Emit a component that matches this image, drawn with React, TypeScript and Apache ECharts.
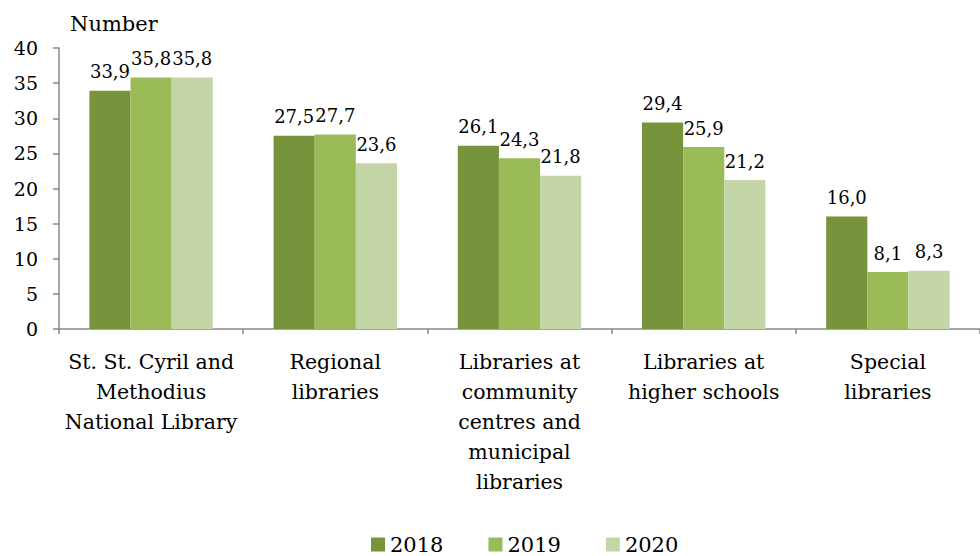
import React, { useEffect, useRef } from "react";
import * as echarts from "echarts";

const categories = [
  "St. St. Cyril and\nMethodius\nNational Library",
  "Regional\nlibraries",
  "Libraries at\ncommunity\ncentres and\nmunicipal\nlibraries",
  "Libraries at\nhigher schools",
  "Special\nlibraries",
];
const seriesNames = ["2018", "2019", "2020"];
const values2018 = [33.9, 27.5, 26.1, 29.4, 16.0];
const values2019 = [35.8, 27.7, 24.3, 25.9, 8.1];
const values2020 = [35.8, 23.6, 21.8, 21.2, 8.3];
const colors = ["#77933c", "#9bbb59", "#c4d6a7"];

const FONT = "DejaVu Serif";

export default function App() {
  const ref = useRef<HTMLDivElement>(null);
  useEffect(() => {
    if (!ref.current) return;
    const chart = echarts.init(ref.current, undefined, { renderer: "svg" });
    const data = [values2018, values2019, values2020];
    chart.setOption({
      animation: false,
      textStyle: { fontFamily: FONT },
      title: {
        text: "Number",
        left: 65,
        top: 8,
        textStyle: { fontFamily: FONT, fontSize: 21, fontWeight: "normal", color: "#000" },
      },
      legend: {
        data: seriesNames,
        left: 366,
        top: 529,
        itemWidth: 14,
        itemHeight: 14,
        itemGap: 45,
        icon: "rect",
        textStyle: { fontFamily: FONT, fontSize: 21, color: "#000" },
      },
      grid: { left: 59, top: 48, bottom: 227, right: -12, containLabel: false },
      xAxis: {
        type: "category",
        data: categories,
        axisLine: { show: true, lineStyle: { color: "#898989", width: 1.5 } },
        axisTick: { show: true, length: 5, lineStyle: { color: "#898989", width: 1.5 } },
        axisLabel: {
          interval: 0,
          margin: 18,
          fontFamily: FONT,
          fontSize: 20.5,
          lineHeight: 30,
          color: "#000",
          align: "center",
        },
      },
      yAxis: {
        type: "value",
        min: 0,
        max: 40,
        interval: 5,
        splitLine: { show: false },
        axisLine: { show: true, lineStyle: { color: "#898989", width: 1.5 } },
        axisTick: { show: true, length: 6, lineStyle: { color: "#898989", width: 1.5 } },
        axisLabel: { margin: 21, fontFamily: FONT, fontSize: 19, color: "#000" },
      },
      series: seriesNames.map((name, i) => ({
        name,
        type: "bar",
        data: data[i],
        barGap: "0%",
        barCategoryGap: "33%",
        itemStyle: { color: colors[i] },
        label: {
          show: true,
          position: "top",
          distance: 10,
          fontFamily: FONT,
          fontSize: 18,
          color: "#000",
          formatter: (p: any) => p.value.toFixed(1).replace(".", ","),
        },
      })),
    });
    return () => chart.dispose();
  }, []);
  return (
    <div
      ref={ref}
      style={{ position: "absolute", left: 0, top: 0, width: 980, height: 556, background: "#fff" }}
    />
  );
}
